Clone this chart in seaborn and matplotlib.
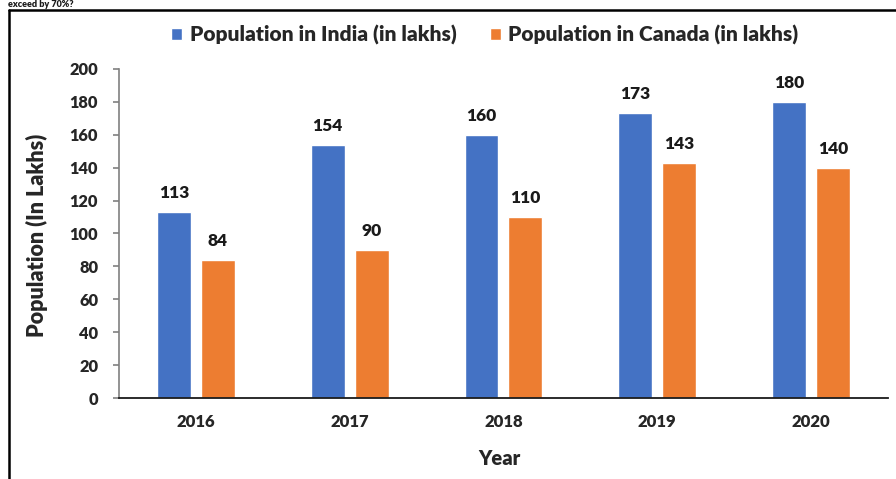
import numpy as np
import pandas as pd
import matplotlib
matplotlib.use("Agg")
import matplotlib.pyplot as plt
import seaborn as sns

# Données
annees = ["2016", "2017", "2018", "2019", "2020"]
pop_inde = [113, 154, 160, 173, 180]
pop_canada = [84, 90, 110, 143, 140]
series = ["Population in India (in lakhs)", "Population in Canada (in lakhs)"]
couleurs = ["#4472C4", "#ED7D31"]
yticks = list(range(0, 201, 20))

df = pd.DataFrame({
    "Year": annees * 2,
    "Population": pop_inde + pop_canada,
    "Serie": [series[0]] * len(annees) + [series[1]] * len(annees),
})

sns.set_style("white")
plt.rcParams["font.family"] = ["Lato", "DejaVu Sans"]
poids = "heavy"

fig = plt.figure(figsize=(8.96, 4.79), dpi=100)
ax = fig.add_axes([0.1328, 0.1691, 0.8582, 0.6869])

sns.barplot(data=df, x="Year", y="Population", hue="Serie", hue_order=series,
            palette=couleurs, width=0.571, gap=0.227, saturation=1, ax=ax)

# Étiquettes des valeurs au-dessus des barres
for c in ax.containers:
    ax.bar_label(c, padding=8, fontsize=12.5, fontweight=poids, color="#1a1a1a")

ax.set_xlim(-0.5, 4.5)
ax.set_ylim(0, 200)
ax.set_yticks(yticks)
ax.set_yticklabels([str(v) for v in yticks], fontsize=11.8, fontweight=poids)
ax.tick_params(axis="y", left=True, length=4, width=1.2, color="#808080", pad=11)
ax.tick_params(axis="x", bottom=False, pad=8, labelsize=12)
for lab in ax.get_xticklabels():
    lab.set_fontweight(poids)

for s in ["top", "right"]:
    ax.spines[s].set_visible(False)
ax.spines["left"].set_color("#808080")
ax.spines["left"].set_linewidth(1.2)
ax.spines["bottom"].set_color("#1a1a1a")
ax.spines["bottom"].set_linewidth(1.3)

ax.set_xlabel("Year", fontsize=14.5, fontweight=poids)
ax.xaxis.set_label_coords(0.495, -0.155)
ax.set_ylabel("Population (In Lakhs)", fontsize=15.5, fontweight=poids)
ax.yaxis.set_label_coords(-0.092, 0.495)

# Légende en haut
handles, labels = ax.get_legend_handles_labels()
ax.legend_.remove()
fig.legend(handles, labels, loc="center", bbox_to_anchor=(0.541, 0.927), ncol=2,
           frameon=False, handlelength=0.55, handleheight=0.55,
           handletextpad=0.35, columnspacing=1.6, prop={"weight": poids, "size": 15})

# Cadre de la capture et texte du haut
fig.add_artist(plt.Line2D([0.0105, 0.0105], [0, 0.979], color="black", lw=1.8,
                          transform=fig.transFigure))
fig.add_artist(plt.Line2D([0.0105, 1], [0.979, 0.979], color="black", lw=1.8,
                          transform=fig.transFigure))
fig.text(0.009, 0.999, "exceed by 70%?", fontsize=6.5, fontweight=poids,
         ha="left", va="top", color="#1a1a1a")

fig.savefig("out.png", dpi=100)
